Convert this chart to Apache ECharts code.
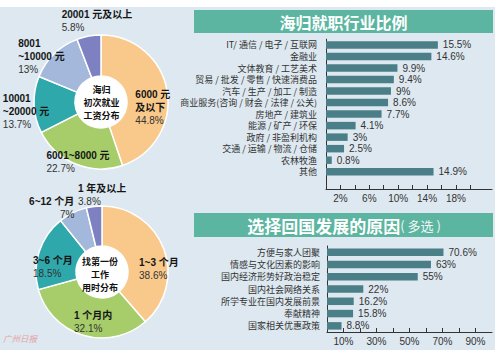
<!DOCTYPE html>
<html><head><meta charset="utf-8">
<script src="https://cdn.jsdelivr.net/npm/echarts@6/dist/echarts.min.js"></script>
<style>html,body{margin:0;padding:0;background:#fff}#c{width:502px;height:355px}</style>
</head><body><div id="c"></div>
<script>
// ---- data ----
const salaryNames = ['6000 元\n及以下', '6001~8000 元', '10001\n~20000 元', '8001\n~10000 元', '20001 元及以上'];
const salaryValues = [44.8, 22.7, 13.7, 13, 5.8];
const timeNames = ['1~3 个月', '1 个月内', '3~6 个月', '6~12 个月', '1 年及以上'];
const timeValues = [38.6, 32.1, 18.5, 7, 3.8];
const industryCats = ['IT/ 通信 / 电子 / 互联网', '金融业', '文体教育 / 工艺美术', '贸易 / 批发 / 零售 / 快速消费品',
  '汽车 / 生产 / 加工 / 制造', '商业服务(咨询 / 财会 / 法律 / 公关)', '房地产 / 建筑业', '能源 / 矿产 / 环保',
  '政府 / 非盈利机构', '交通 / 运输 / 物流 / 仓储', '农林牧渔', '其他'];
const industryValues = [15.5, 14.6, 9.9, 9.4, 9, 8.6, 7.7, 4.1, 3, 2.5, 0.8, 14.9];
const industryTicks = [2, 4, 6, 8, 10, 12, 14, 16, 18, 20];
const industryTickLabels = [2, 6, 10, 14, 18];
const reasonCats = ['方便与家人团聚', '情感与文化因素的影响', '国内经济形势好政治稳定', '国内社会网络关系',
  '所学专业在国内发展前景', '奉献精神', '国家相关优惠政策'];
const reasonValues = [70.6, 63, 55, 22, 16.2, 15.8, 8.8];
const reasonTicks = [10, 20, 30, 40, 50, 60, 70, 80, 90];
const reasonTickLabels = [10, 30, 50, 70, 90];

// ---- styling / layout ----
const FONT = '"Liberation Sans", "Noto Sans CJK SC", sans-serif';
const CJK = '"Noto Sans CJK SC", sans-serif';
const pieColors = ['#f8c98b', '#a6cd69', '#2fa8ab', '#a3b8da', '#7e81c1'];
const barColor = '#4b7f87';
const salaryShift = [[3, 14], [-4.3, 14.3], [-25.5, 7.8], [-25, -10], [4.9, -32.3]];
const timeShift = [[11, 13.8], [5.3, 3.2], [-2.5, 10], [-28.6, -19.6], [6, -28.5]];

function pieSeries(names, values, center, radius, shift, rightValueIdx) {
  return {
    type: 'pie', center: center, radius: radius, startAngle: 90, clockwise: true,
    avoidLabelOverlap: false, silent: true,
    itemStyle: { borderColor: '#fff', borderWidth: 1.5 },
    color: pieColors,
    label: {
      show: true, position: 'inside', color: '#222', fontFamily: FONT,
      formatter: p => '{n|' + p.name + '}\n{' + (p.dataIndex === rightValueIdx ? 'vr' : 'v') + '|' + p.value + '%}',
      rich: {
        n: { fontSize: 10, fontWeight: 'bold', color: '#151515', lineHeight: 13, align: 'left', fontFamily: FONT },
        v: { fontSize: 10, color: '#333', lineHeight: 13, align: 'left', fontFamily: FONT },
        vr: { fontSize: 10, color: '#333', lineHeight: 13, align: 'right', fontFamily: FONT }
      }
    },
    labelLine: { show: false },
    labelLayout: p => ({ dx: shift[p.dataIndex][0], dy: shift[p.dataIndex][1] }),
    data: names.map((n, i) => ({ name: n, value: values[i] }))
  };
}

const axisCommon = {
  axisLine: { show: true, lineStyle: { color: '#333', width: 1 } },
  splitLine: { show: false }
};

const chart = echarts.init(document.getElementById('c'), null, { renderer: 'svg' });
chart.setOption({
  animation: false,
  backgroundColor: '#fff',
  textStyle: { fontFamily: FONT },
  graphic: [
    { type: 'rect', z: -10, silent: true, shape: { x: 0, y: 7, width: 495, height: 343 }, style: { fill: '#dde8f0' } },
    { type: 'rect', z: -9, silent: true, shape: { x: 194, y: 10, width: 299, height: 23 }, style: { fill: '#5bb5a0' } },
    { type: 'rect', z: -9, silent: true, shape: { x: 194, y: 213, width: 299, height: 24 }, style: { fill: '#5bb5a0' } },
    { type: 'circle', z: -8, silent: true, shape: { cx: 101.5, cy: 102, r: 26 }, style: { fill: '#fff' } },
    { type: 'circle', z: -8, silent: true, shape: { cx: 102, cy: 272.5, r: 26 }, style: { fill: '#fff' } },
    { type: 'text', silent: true, x: 343.5, y: 21.5, style: { text: '海归就职行业比例', fill: '#fff', font: 'bold 16px ' + CJK, align: 'center', verticalAlign: 'middle' } },
    { type: 'text', silent: true, x: 344, y: 225, style: {
        text: '{a|选择回国发展的原因}{b|( 多选 )}', align: 'center', verticalAlign: 'middle',
        rich: { a: { fontSize: 17, fontWeight: 'bold', fill: '#fff', fontFamily: CJK }, b: { fontSize: 13, fill: '#f2f7f5', fontFamily: CJK } } } },
    { type: 'text', silent: true, z: 10, x: 101.5, y: 102, style: { text: '海归\n初次就业\n工资分布', fill: '#111', font: 'bold 9px ' + CJK, lineHeight: 13, align: 'center', verticalAlign: 'middle' } },
    { type: 'text', silent: true, z: 10, x: 100, y: 274, style: { text: '找第一份\n工作\n用时分布', fill: '#111', font: 'bold 9px ' + CJK, lineHeight: 13, align: 'center', verticalAlign: 'middle' } },
    { type: 'text', silent: true, z: 10, x: 3, y: 338, style: { text: '广州日报', fill: '#e6a2a2', font: 'italic 8.5px ' + CJK, verticalAlign: 'middle' } }
  ],
  grid: [
    { left: 326, top: 39.2, width: 166, height: 149.8 },
    { left: 327, top: 246, width: 165, height: 86 }
  ],
  xAxis: [
    Object.assign({ type: 'value', gridIndex: 0, min: 0, max: 23,
      axisTick: { show: true, inside: true, length: 4, customValues: industryTicks, lineStyle: { color: '#333' } },
      axisLabel: { customValues: industryTickLabels, formatter: '{value}%', fontSize: 10, color: '#333', margin: 4 } }, axisCommon),
    Object.assign({ type: 'value', gridIndex: 1, min: 0, max: 100,
      axisTick: { show: true, inside: true, length: 4, customValues: reasonTicks, lineStyle: { color: '#333' } },
      axisLabel: { customValues: reasonTickLabels, formatter: '{value}%', fontSize: 10, color: '#333', margin: 4 } }, axisCommon)
  ],
  yAxis: [
    Object.assign({ type: 'category', gridIndex: 0, data: industryCats, inverse: true, max: 12, axisTick: { show: false },
      axisLabel: { interval: 0, fontSize: 9, color: '#333', margin: 9, fontFamily: CJK } }, axisCommon),
    Object.assign({ type: 'category', gridIndex: 1, data: reasonCats, inverse: true, axisTick: { show: false },
      axisLabel: { interval: 0, fontSize: 9, color: '#333', margin: 7, fontFamily: CJK } }, axisCommon)
  ],
  series: [
    pieSeries(salaryNames, salaryValues, [101, 102], [26, 67], salaryShift, -1),
    pieSeries(timeNames, timeValues, [102, 272], [26, 66], timeShift, 3),
    { type: 'bar', xAxisIndex: 0, yAxisIndex: 0, data: industryValues, barWidth: 7.5, silent: true,
      itemStyle: { color: barColor },
      label: { show: true, position: 'right', distance: 5, formatter: '{c}%', fontSize: 10, color: '#333' } },
    { type: 'bar', xAxisIndex: 1, yAxisIndex: 1, data: reasonValues, barWidth: 7.5, silent: true,
      itemStyle: { color: barColor },
      label: { show: true, position: 'right', distance: 5, formatter: '{c}%', fontSize: 10, color: '#333' } }
  ]
});
</script></body></html>
